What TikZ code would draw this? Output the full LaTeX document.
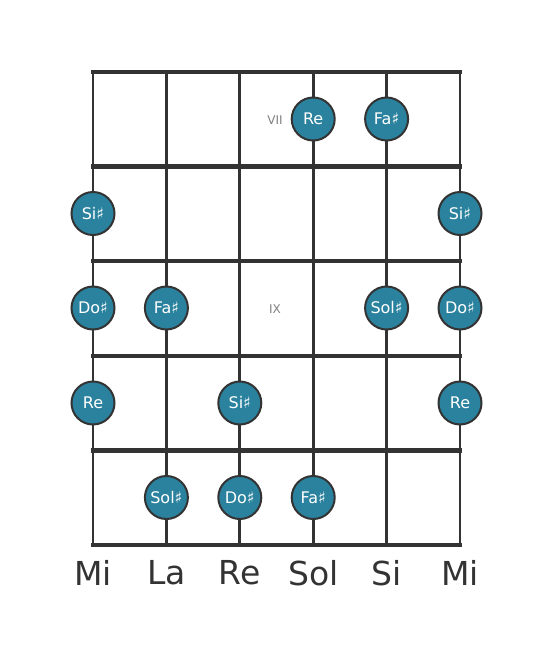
\documentclass[tikz,border=0pt]{standalone}
\usepackage{fontspec}
\setmainfont{DejaVu Sans}
\usepackage{tikz}
\usetikzlibrary{positioning,calc}
\definecolor{gridgray}{HTML}{333333}
\definecolor{noteteal}{HTML}{2B829E}

\begin{document}
\begin{tikzpicture}[
        x=1pt, y=-1pt,
        fret/.style={gridgray, line width=4.5pt},
        guitarstring/.style={gridgray, line width=2.8pt},
        note/.style={circle, draw=gridgray, line width=2pt, fill=noteteal, minimum size=43pt, inner sep=0pt, text=white, font=\fontsize{16}{16}\selectfont},
        fretmark/.style={text=gray, font=\fontsize{12}{12}\selectfont},
        strname/.style={text=gridgray, font=\fontsize{33}{33}\selectfont}
    ]
        \useasboundingbox (0,0) rectangle (553,656);

        % Strings
        \foreach \x in {93,166.4,239.8,313.2,386.6,460}
            \draw[guitarstring] (\x,72) -- (\x,545);

        % Frets
        \foreach \y in {72,166.6,261.2,355.8,450.4,545}
            \draw[fret] (91,\y) -- (462,\y);

        % Position marks
        \node[fretmark] (vii) at (275,120) {VII};
        \node[fretmark] (ix) at (275,309) {IX};

        % Fret 1
        \node[note] (re1) at (313.2,119) {Re};
        \node[note] (fa1) at (386.6,119) {Fa♯};

        % Fret 2
        \node[note] (si1) at (93,213.5) {Si♯};
        \node[note] (si2) at (460,213.5) {Si♯};

        % Fret 3
        \node[note] (do1) at (93,308) {Do♯};
        \node[note] (fa2) at (166.4,308) {Fa♯};
        \node[note] (sol1) at (386.6,308) {Sol♯};
        \node[note] (do2) at (460,308) {Do♯};

        % Fret 4
        \node[note] (re2) at (93,403) {Re};
        \node[note] (si3) at (239.8,403) {Si♯};
        \node[note] (re3) at (460,403) {Re};

        % Fret 5
        \node[note] (sol2) at (166.4,497.5) {Sol♯};
        \node[note] (do3) at (239.8,497.5) {Do♯};
        \node[note] (fa3) at (313.2,497.5) {Fa♯};

        % String names
        \node[strname] (mi1) at (93,573) {Mi};
        \node[strname] (la) at (166.4,573) {La};
        \node[strname] (re) at (239.8,573) {Re};
        \node[strname] (sol) at (313.2,573) {Sol};
        \node[strname] (si) at (386.6,573) {Si};
        \node[strname] (mi2) at (460,573) {Mi};
    \end{tikzpicture}
\end{document}
